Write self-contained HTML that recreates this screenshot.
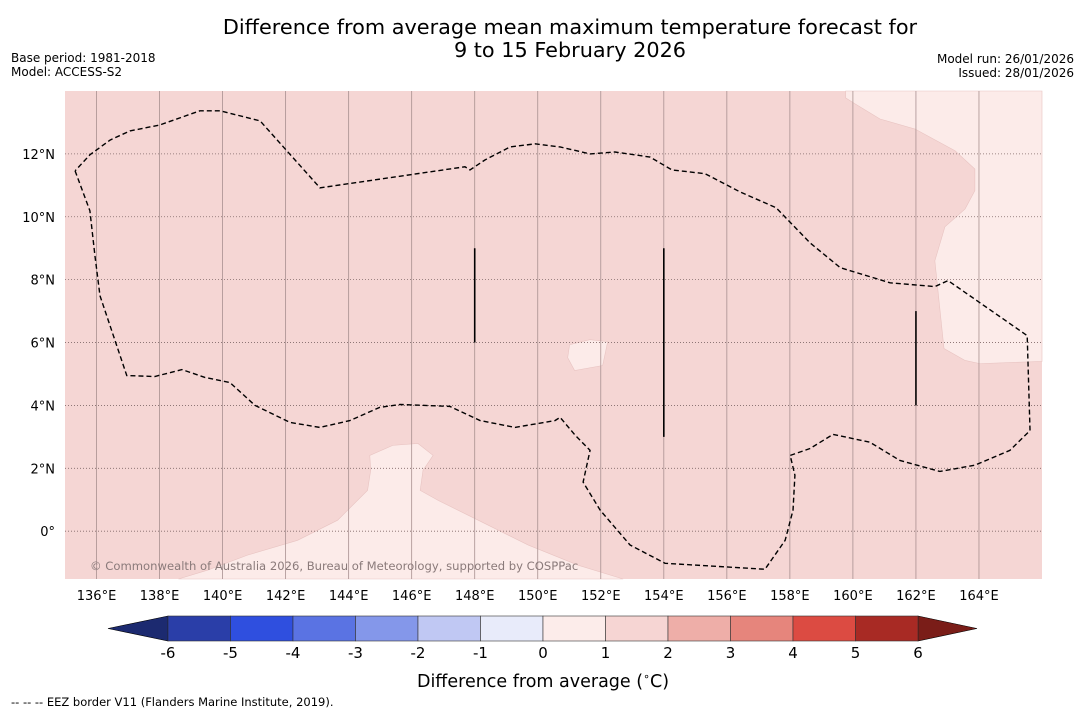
<!DOCTYPE html>
<html><head><meta charset="utf-8"><style>
body{margin:0;background:#fff;width:1085px;height:713px;overflow:hidden;font-family:"DejaVu Sans","Liberation Sans",sans-serif}
svg text{font-family:"DejaVu Sans","Liberation Sans",sans-serif}
</style></head><body>
<svg id="chart" width="1085" height="713">
<text x="570" y="34" font-size="20.8" text-anchor="middle">Difference from average mean maximum temperature forecast for</text>
<text x="570" y="57" font-size="20.8" text-anchor="middle">9 to 15 February 2026</text>
<text x="11" y="62" font-size="12">Base period: 1981-2018</text>
<text x="11" y="76" font-size="12">Model: ACCESS-S2</text>
<text x="1074" y="63" font-size="12" text-anchor="end">Model run: 26/01/2026</text>
<text x="1074" y="77" font-size="12" text-anchor="end">Issued: 28/01/2026</text>
<g id="map"></g>
<g id="cbar"></g>
<text x="543" y="687" font-size="17.5" text-anchor="middle">Difference from average (<tspan font-size="11" dy="-7">∘</tspan><tspan dy="7">C)</tspan></text>
<text x="11" y="706" font-size="11.5">--  --  -- EEZ border V11 (Flanders Marine Institute, 2019).</text>
</svg>
<script>
const lonTicks=[136,138,140,142,144,146,148,150,152,154,156,158,160,162,164];
const latTicks=[0,2,4,6,8,10,12];
const latLabels=["0°","2°N","4°N","6°N","8°N","10°N","12°N"];
const cbarValues=[-6,-5,-4,-3,-2,-1,0,1,2,3,4,5,6];
const cbarColors=["#2a3ea8","#2f4fdf","#5a73e3","#8497ea","#c0c8f3","#e8ebfa","#fcecea","#f6d5d3","#eeaea8","#e6857c","#dc4b42","#a82a24"];
const eezLon=[135.32,135.79,135.95,136.11,136.96,137.85,138.71,139.44,140.23,141.03,142.14,143.09,144.04,144.99,145.63,147.21,148.17,149.28,150.55,150.71,151.19,151.66,151.44,151.98,152.93,154.04,157.21,157.85,158.1,158.16,158.01,158.64,159.37,160.54,161.49,162.76,163.87,164.98,165.62,165.53,163.02,162.6,161.18,159.6,158.64,157.56,156.42,155.31,154.26,153.56,152.45,151.66,150.71,149.92,149.12,148.33,147.85,147.69,143.09,141.19,139.92,139.28,138.01,137.06,136.43,135.79,135.32];
const eezLat=[11.46,10.19,8.76,7.49,4.95,4.92,5.14,4.89,4.73,4.0,3.46,3.3,3.52,3.94,4.03,3.97,3.52,3.3,3.52,3.62,3.05,2.57,1.56,0.67,-0.44,-1.02,-1.21,-0.29,0.67,1.78,2.41,2.63,3.08,2.83,2.25,1.9,2.1,2.57,3.2,6.22,7.97,7.78,7.9,8.38,9.17,10.29,10.79,11.37,11.49,11.9,12.06,12.0,12.22,12.32,12.22,11.81,11.49,11.59,10.92,13.05,13.37,13.37,12.92,12.73,12.44,11.97,11.46];
const lightA=[[159.77,14],[166,14],[166,5.4],[164.03,5.33],[163.56,5.43],[162.89,5.81],[162.6,8.6],[162.92,9.68],[163.56,10.25],[163.87,10.83],[163.87,11.52],[163.24,12.1],[161.97,12.79],[160.86,13.11],[160.07,13.59],[159.77,13.78]];
const lightB=[[138.6,-1.52],[139.52,-1.24],[140.79,-0.76],[142.38,-0.29],[143.65,0.35],[144.6,1.3],[144.7,1.94],[144.67,2.41],[145.4,2.73],[146.2,2.79],[146.68,2.41],[146.36,1.94],[146.27,1.3],[146.84,0.98],[148.11,0.35],[149.7,-0.44],[151.28,-1.08],[152.71,-1.52]];
const lightC=[[151.01,5.93],[151.65,6.09],[152.22,6.03],[152.06,5.27],[151.17,5.11],[150.95,5.52]];
const cuts=[[148,6,9],[154,3,9],[162,4,7]];
const NS="http://www.w3.org/2000/svg";
const X0=65,X1=1042,Y0=91,Y1=579,LON0=135,LON1=166,LAT0=-1.52,LAT1=14;
const xs=l=>X0+(l-LON0)/(LON1-LON0)*(X1-X0);
const ys=l=>Y1-(l-LAT0)/(LAT1-LAT0)*(Y1-Y0);
function mk(t,a,p){const e=document.createElementNS(NS,t);for(const k in a)e.setAttribute(k,a[k]);p.appendChild(e);return e;}
const map=document.getElementById('map');
let e=mk('rect',{x:X0,y:Y0,width:X1-X0,height:Y1-Y0,fill:'#f5d6d4'},map);


[lightA,lightB,lightC].forEach((pts,i)=>{
 const p=mk('polygon',{points:pts.map(q=>xs(q[0])+','+ys(q[1])).join(' '),fill:'#fcebe9',stroke:'#e8c4c2','stroke-width':0.6},map);
 
 
});
lonTicks.forEach(l=>{
 const g=mk('line',{x1:xs(l),x2:xs(l),y1:Y0,y2:Y1,stroke:'#a89090','stroke-width':0.8},map);
 
 
 const t=mk('text',{x:xs(l),y:600,'font-size':13,'text-anchor':'middle'},map);t.textContent=l+'°E';
 
 
});
latTicks.forEach((l,i)=>{
 const g=mk('line',{x1:X0,x2:X1,y1:ys(l),y2:ys(l),stroke:'#806868','stroke-width':0.8,'stroke-dasharray':'1,2'},map);
 
 
 const t=mk('text',{x:55,y:ys(l)+5,'font-size':13,'text-anchor':'end'},map);t.textContent=latLabels[i];
 
 
});
e=mk('polyline',{points:eezLon.map((l,i)=>xs(l)+','+ys(eezLat[i])).join(' '),fill:'none',stroke:'#000','stroke-width':1.4,'stroke-dasharray':'5,3'},map);


cuts.forEach(c=>{
 const l=mk('line',{x1:xs(c[0]),x2:xs(c[0]),y1:ys(c[1]),y2:ys(c[2]),stroke:'#000','stroke-width':1.6},map);
 
 
});
e=mk('text',{x:90,y:570,'font-size':11.6,fill:'#8a7a7a'},map);e.textContent='© Commonwealth of Australia 2026, Bureau of Meteorology, supported by COSPPac';


const cb=document.getElementById('cbar');
const CX0=168,CX1=918,CY=616,CH=25,sw=(CX1-CX0)/cbarColors.length;
e=mk('polygon',{points:`${CX0},${CY} 108,${CY+CH/2} ${CX0},${CY+CH}`,fill:'#1c2a70',stroke:'#000','stroke-width':0.6},cb);


e=mk('polygon',{points:`${CX1},${CY} 977,${CY+CH/2} ${CX1},${CY+CH}`,fill:'#7a1d18',stroke:'#000','stroke-width':0.6},cb);


cbarColors.forEach((c,i)=>{
 const r=mk('rect',{x:CX0+i*sw,y:CY,width:sw,height:CH,fill:c,stroke:'#333','stroke-width':0.6},cb);
 
 
});
cbarValues.forEach((v,i)=>{
 const t=mk('text',{x:CX0+i*sw,y:658,'font-size':15,'text-anchor':'middle'},cb);t.textContent=v;
 
 
});
</script>
</body></html>
